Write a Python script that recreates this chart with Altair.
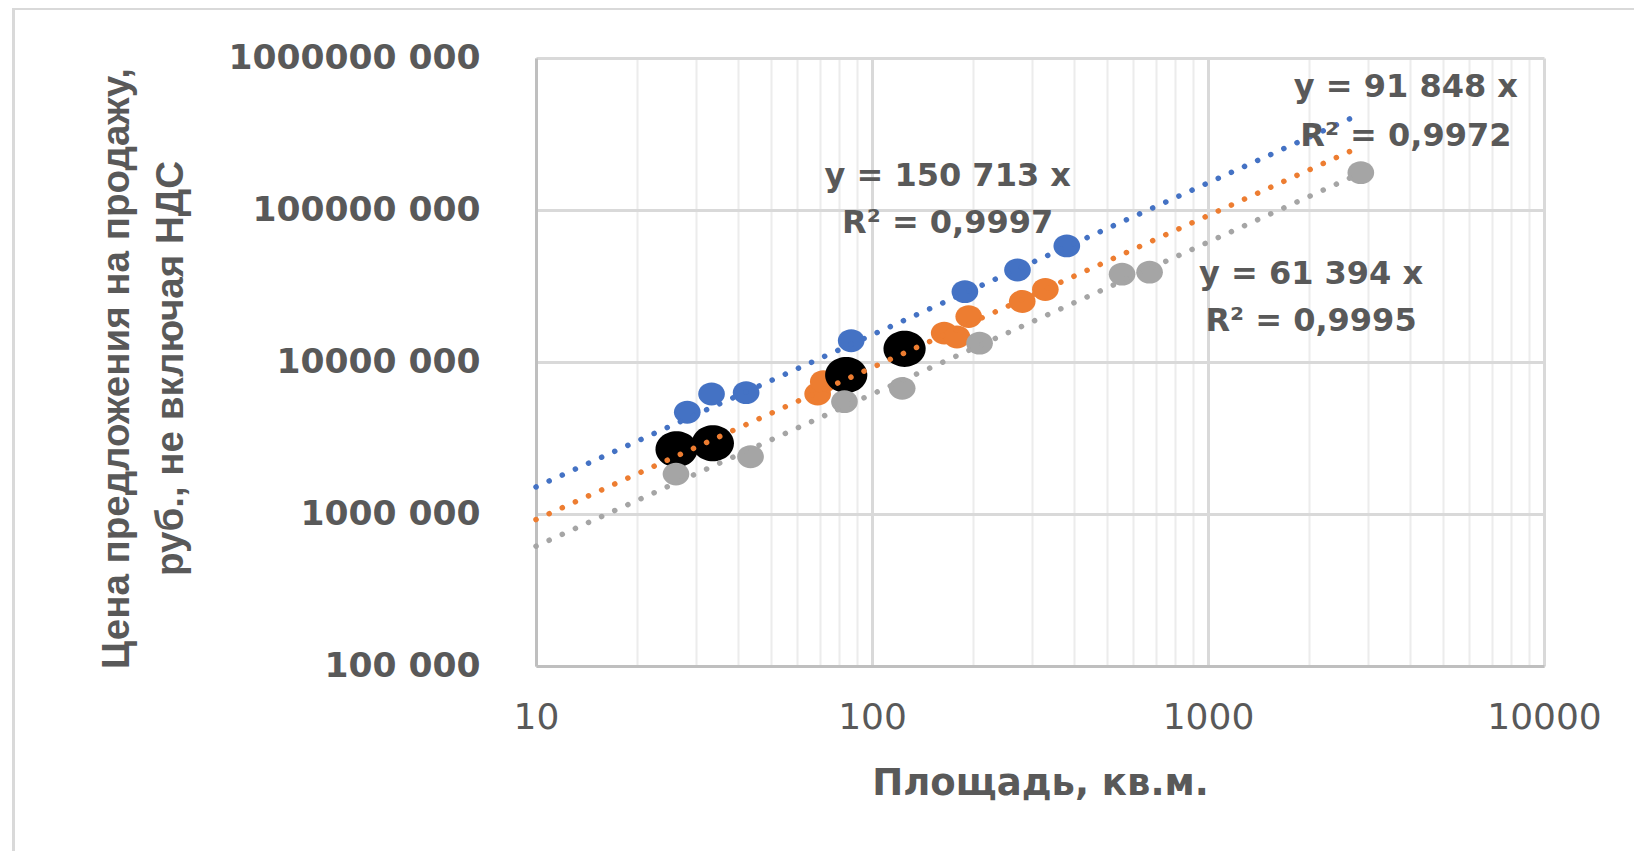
import altair as alt
import pandas as pd

# ---- data ----
blue_x = [28.2, 33.3, 42.2, 86.7, 189, 271, 380]
blue_y = [4.67e6, 6.16e6, 6.28e6, 1.38e7, 2.90e7, 4.03e7, 5.80e7]

orange_x = [68.9, 71.6, 164, 179, 194, 280, 328]
orange_y = [6.16e6, 7.42e6, 1.55e7, 1.46e7, 1.99e7, 2.50e7, 3.00e7]

gray_x = [26.1, 43.5, 82.8, 123, 209, 555, 670, 2850]
gray_y = [1.83e6, 2.38e6, 5.48e6, 6.71e6, 1.33e7, 3.78e7, 3.90e7, 1.76e8]

black_x = [26.2, 33.6, 83.8, 125]
black_y = [2.67e6, 2.92e6, 8.21e6, 1.22e7]

trend_series = ["blue", "orange", "gray"]
trend_k = [150713, 91848, 61394]
trend_x = [10, 2850]

label_text = ["y = 150 713 x", "R² = 0,9997",
              "y = 91 848 x", "R² = 0,9972",
              "y = 61 394 x", "R² = 0,9995"]
label_x = [168, 168, 3881, 3881, 2026, 2026]
label_y = [1.67e8, 8.2e7, 6.44e8, 3.07e8, 3.79e7, 1.86e7]

x_grid = [10, 20, 30, 40, 50, 60, 70, 80, 90,
          100, 200, 300, 400, 500, 600, 700, 800, 900,
          1000, 2000, 3000, 4000, 5000, 6000, 7000, 8000, 9000, 10000]
y_ticks = [1e5, 1e6, 1e7, 1e8, 1e9]

series_domain = ["blue", "orange", "gray"]
series_colors = ["#4472c4", "#ed7d31", "#a5a5a5"]

TXT = "#595959"
major_test = "indexof([10,100,1000,10000], datum.value) >= 0"
# slightly wide ellipse marker (the original picture is stretched sideways)
ELLIPSE = "M -1.17 0 A 1.17 1 0 1 0 1.17 0 A 1.17 1 0 1 0 -1.17 0 Z"

xscale = alt.Scale(type="log", domain=[10, 10000], nice=False)
yscale = alt.Scale(type="log", domain=[1e5, 1e9], nice=False)
cscale = alt.Scale(domain=series_domain, range=series_colors)

xaxis = alt.Axis(
    values=x_grid, format="d",
    labelExpr=major_test + " ? datum.label : ''",
    labelFont="DejaVu Sans", labelFontSize=36, labelColor=TXT,
    labelPadding=34, labelFlush=False, labelOverlap=False, labelBaseline="top",
    ticks=False, tickSize=0,
    domainColor="#bfbfbf", domainWidth=3,
    grid=True,
    gridColor={"condition": {"test": major_test, "value": "#d9d9d9"}, "value": "#ececec"},
    gridWidth={"condition": {"test": major_test, "value": 3}, "value": 2},
    title="Площадь, кв.м.", titleFont="DejaVu Sans", titleFontWeight="bold",
    titleFontSize=37, titleColor=TXT, titleX=504, titleY=117,
    titleAlign="center", titleBaseline="middle",
)

yaxis = alt.Axis(
    values=y_ticks,
    labelExpr="format(datum.value / 1000, 'd') + ' 000'",
    labelFont="DejaVu Sans", labelFontWeight="bold", labelFontSize=34.5,
    labelColor=TXT, labelPadding=56, labelFlush=False, labelOverlap=False,
    labelLimit=0,
    ticks=False, tickSize=0,
    domainColor="#bfbfbf", domainWidth=3,
    grid=True, gridColor="#d9d9d9", gridWidth=3,
    title=["Цена предложения на продажу,", "руб., не включая НДС"],
    titleFont="Liberation Sans", titleFontWeight="bold", titleFontSize=38.5,
    titleColor=TXT, titleAngle=270, titleX=-420, titleY=310,
    titleAlign="center", titleBaseline="middle", titleLineHeight=54,
    titleLimit=0,
)


def points_layer(xs, ys, color, size):
    df = pd.DataFrame({"x": xs, "y": ys})
    return alt.Chart(df).mark_point(
        shape=ELLIPSE, filled=True, opacity=1, color=color, size=size, strokeWidth=0
    ).encode(
        x=alt.X("x:Q", scale=xscale, axis=xaxis),
        y=alt.Y("y:Q", scale=yscale, axis=yaxis),
    )


border = alt.Chart(alt.Data(values=[{}])).mark_rect(
    fill=None, stroke="#d9d9d9", strokeWidth=3
).encode(
    x=alt.value(-522.5), x2=alt.value(1300), y=alt.value(-49.5), y2=alt.value(1000)
)

orange_pts = points_layer(orange_x, orange_y, "#ed7d31", 520)
black_pts = points_layer(black_x, black_y, "#000000", 1300)
gray_pts = points_layer(gray_x, gray_y, "#a5a5a5", 520)
blue_pts = points_layer(blue_x, blue_y, "#4472c4", 520)

trend = pd.DataFrame([{"series": s, "k": k, "x": xv}
                      for s, k in zip(trend_series, trend_k) for xv in trend_x])

lines = alt.Chart(trend).transform_calculate(
    y="datum.k * datum.x"
).mark_line(strokeDash=[0.1, 14.3], strokeCap="round", strokeWidth=5.5).encode(
    x=alt.X("x:Q", scale=xscale, axis=xaxis),
    y=alt.Y("y:Q", scale=yscale, axis=yaxis),
    color=alt.Color("series:N", scale=cscale, legend=None),
    detail="series:N",
)

labels = pd.DataFrame({"x": label_x, "y": label_y, "text": label_text})
texts = alt.Chart(labels).mark_text(
    font="DejaVu Sans", fontWeight="bold", fontSize=32, color=TXT,
    align="center", baseline="middle"
).encode(
    x=alt.X("x:Q", scale=xscale, axis=xaxis),
    y=alt.Y("y:Q", scale=yscale, axis=yaxis),
    text="text:N",
)

chart = alt.layer(border, orange_pts, black_pts, gray_pts, blue_pts, lines, texts).properties(
    width=1008, height=608,
    autosize=alt.AutoSizeParams(type="none"),
    padding={"left": 528, "top": 50, "right": 90, "bottom": 185},
    background="white",
).configure_view(stroke=None)

chart.save("out.html", embed_options={"renderer": "svg", "actions": False})
